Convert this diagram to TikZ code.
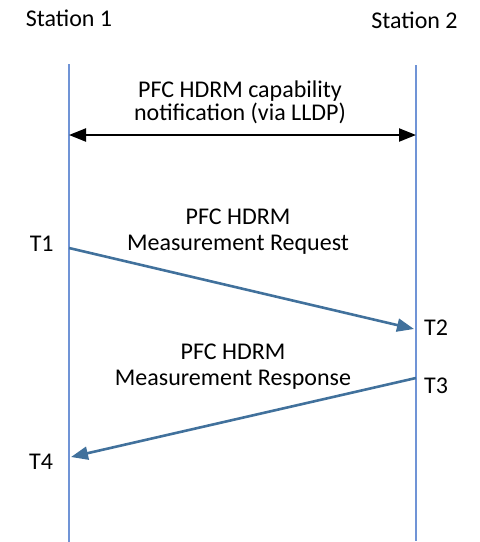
\documentclass[tikz,border=0pt]{standalone}
\usepackage{fontspec}
\setmainfont{Carlito}
\usetikzlibrary{arrows.meta}
\definecolor{lifeblue}{RGB}{112,148,214}
\definecolor{msgblue}{RGB}{65,113,156}

\begin{document}
\begin{tikzpicture}
  [x=0.5pt,y=-0.5pt,
   every node/.style={font=\fontsize{12}{13}\selectfont,inner sep=0pt},
   lifeline/.style={lifeblue,line width=0.8pt},
   msg/.style={msgblue,line width=1.3pt,-{Triangle[length=8.5pt,width=6.5pt]}},
   notify/.style={black,line width=1.1pt,{Triangle[length=8.5pt,width=6.5pt]}-{Triangle[length=8.5pt,width=6.5pt]}}]
  \useasboundingbox (0,0) rectangle (479,542);

  \node[anchor=base] (s1) at (69,26) {Station 1};
  \node[anchor=base] (s2) at (414.5,28) {Station 2};

  \coordinate (s1top) at (69,64);
  \coordinate (s1bot) at (69,542);
  \coordinate (s2top) at (416,65);
  \coordinate (s2bot) at (416,541);
  \draw[lifeline] (s1top) -- (s1bot);
  \draw[lifeline] (s2top) -- (s2bot);

  \coordinate (c1) at (69,135);
  \coordinate (c2) at (416,135);
  \draw[notify] (c1) -- (c2);
  \node[align=center,font=\fontsize{12}{11.8}\selectfont] (cap) at (240,102.5)
    {PFC HDRM capability\\notification (via LLDP)};

  \coordinate (p1) at (69,248);
  \coordinate (p2) at (414,329);
  \coordinate (p3) at (416,378);
  \coordinate (p4) at (71,457);
  \draw[msg] (p1) -- (p2);
  \draw[msg] (p3) -- (p4);

  \node[align=center] (req) at (238,231.5) {PFC HDRM\\Measurement Request};
  \node[align=center] (resp) at (233,366.5) {PFC HDRM\\Measurement Response};

  \node[anchor=base] (t1) at (41.7,251.7) {T1};
  \node[anchor=base] (t2) at (436,335) {T2};
  \node[anchor=base] (t3) at (436,393) {T3};
  \node[anchor=base] (t4) at (41,469) {T4};
\end{tikzpicture}
\end{document}
